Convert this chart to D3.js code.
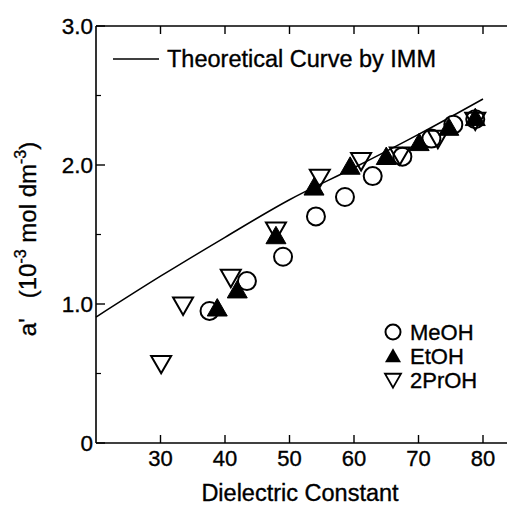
<!DOCTYPE html>
<html><head><meta charset="utf-8">
<script src="https://cdn.jsdelivr.net/npm/d3@7/dist/d3.min.js"></script>
<style>body{margin:0;background:#fff}svg{display:block}text{font-family:"Liberation Sans",Arial,sans-serif;fill:#000;stroke:#000;stroke-width:0.35px}</style>
</head><body><svg id="c" width="507" height="505"></svg>
<script>
// Data
const meohX = [37.6, 43.4, 49.0, 54.1, 58.6, 62.9, 67.5, 72.0, 75.4, 78.8];
const meohY = [0.95, 1.165, 1.34, 1.63, 1.77, 1.92, 2.06, 2.19, 2.29, 2.33];
const etohX = [38.8, 41.9, 47.9, 53.8, 59.4, 65.0, 70.1, 74.7, 78.8];
const etohY = [0.97, 1.10, 1.49, 1.84, 1.99, 2.06, 2.16, 2.27, 2.34];
const proX = [30.1, 33.5, 40.9, 47.9, 54.7, 61.1, 67.1, 73.0, 78.8];
const proY = [0.57, 0.99, 1.19, 1.53, 1.91, 2.03, 2.07, 2.19, 2.32];
const theoX = [20, 30, 40, 50, 60, 70, 80];
const theoY = [0.906, 1.20, 1.48, 1.75, 1.98, 2.22, 2.475];
const xTicks = [30, 40, 50, 60, 70, 80];
const yTicks = [0, 1, 2, 3];
const yTickLabels = ["0", "1.0", "2.0", "3.0"];
const yMinor = [0.5, 1.5, 2.5];
const legendNames = ["MeOH", "EtOH", "2PrOH"];

const svg = d3.select("#c");
const x = d3.scaleLinear().domain([20, 80]).range([96, 483]);
const y = d3.scaleLinear().domain([0, 3]).range([443, 26]);
const xEnd = 507;

// axes lines
svg.append("line").attr("x1", x(20)).attr("x2", xEnd).attr("y1", y(0)).attr("y2", y(0)).attr("stroke", "#000").attr("stroke-width", 1.6);
svg.append("line").attr("x1", x(20)).attr("x2", xEnd).attr("y1", y(3)).attr("y2", y(3)).attr("stroke", "#000").attr("stroke-width", 1.6);
svg.append("line").attr("x1", x(20)).attr("x2", x(20)).attr("y1", y(0)).attr("y2", y(3)).attr("stroke", "#000").attr("stroke-width", 1.6);

// x ticks (bottom + top, inward)
xTicks.forEach(t => {
  svg.append("line").attr("x1", x(t)).attr("x2", x(t)).attr("y1", y(0)).attr("y2", y(0) - 8).attr("stroke", "#000").attr("stroke-width", 1.4);
  svg.append("line").attr("x1", x(t)).attr("x2", x(t)).attr("y1", y(3)).attr("y2", y(3) + 8).attr("stroke", "#000").attr("stroke-width", 1.4);
  svg.append("text").attr("x", x(t)).attr("y", y(0) + 23).attr("text-anchor", "middle").attr("font-size", 22).text(t);
});
// y ticks
yTicks.forEach((t, i) => {
  svg.append("line").attr("x1", x(20)).attr("x2", x(20) + 9).attr("y1", y(t)).attr("y2", y(t)).attr("stroke", "#000").attr("stroke-width", 1.4);
  svg.append("text").attr("x", x(20) - 3).attr("y", y(t) + 8).attr("text-anchor", "end").attr("font-size", 22.5).text(yTickLabels[i]);
});
yMinor.forEach(t => {
  svg.append("line").attr("x1", x(20)).attr("x2", x(20) + 5).attr("y1", y(t)).attr("y2", y(t)).attr("stroke", "#000").attr("stroke-width", 1.2);
});

// axis titles
svg.append("text").attr("x", 300).attr("y", 501).attr("text-anchor", "middle").attr("font-size", 23.5).text("Dielectric Constant");
const yl = svg.append("text").attr("transform", "translate(36,239) rotate(-90)").attr("text-anchor", "middle").attr("font-size", 24);
yl.append("tspan").text("a'\u00a0\u00a0\u00a0(10");
yl.append("tspan").attr("dy", -10).attr("font-size", 16).text("-3");
yl.append("tspan").attr("dy", 10).text(" mol dm");
yl.append("tspan").attr("dy", -10).attr("font-size", 16).text("-3");
yl.append("tspan").attr("dy", 10).text(")");

// theoretical curve
const lineGen = d3.line().x(d => x(d[0])).y(d => y(d[1])).curve(d3.curveMonotoneX);
svg.append("path").datum(theoX.map((v, i) => [v, theoY[i]])).attr("d", lineGen).attr("fill", "none").attr("stroke", "#000").attr("stroke-width", 1.5);

// markers
function triUp(cx, cy, s) {
  const h = s * 0.87;
  return `M${cx},${cy - h * 0.55}L${cx + s / 2},${cy + h * 0.45}L${cx - s / 2},${cy + h * 0.45}Z`;
}
function triDown(cx, cy, s) {
  const h = s * 0.87;
  return `M${cx},${cy + h * 0.55}L${cx + s / 2},${cy - h * 0.45}L${cx - s / 2},${cy - h * 0.45}Z`;
}
const g = svg.append("g");
g.selectAll("circle.m").data(meohX.map((v, i) => [v, meohY[i]])).enter().append("circle")
  .attr("cx", d => x(d[0])).attr("cy", d => y(d[1])).attr("r", 9)
  .attr("fill", "#fff").attr("stroke", "#000").attr("stroke-width", 2);
g.selectAll("path.e").data(etohX.map((v, i) => [v, etohY[i]])).enter().append("path")
  .attr("d", d => triUp(x(d[0]), y(d[1]), 20)).attr("fill", "#000").attr("stroke", "#000").attr("stroke-width", 1);
g.selectAll("path.p").data(proX.map((v, i) => [v, proY[i]])).enter().append("path")
  .attr("d", d => triDown(x(d[0]), y(d[1]), 20)).attr("fill", "none").attr("stroke", "#000").attr("stroke-width", 2);

// legend
svg.append("line").attr("x1", 113).attr("x2", 159).attr("y1", 59).attr("y2", 59).attr("stroke", "#000").attr("stroke-width", 1.4);
svg.append("text").attr("x", 167).attr("y", 67).attr("font-size", 23.5).text("Theoretical Curve by IMM");

const lx = 393, ly = [332, 356, 380];
svg.append("circle").attr("cx", lx).attr("cy", ly[0]).attr("r", 7.5).attr("fill", "#fff").attr("stroke", "#000").attr("stroke-width", 2);
svg.append("path").attr("d", triUp(lx, ly[1], 16)).attr("fill", "#000");
svg.append("path").attr("d", triDown(lx, ly[2], 16)).attr("fill", "none").attr("stroke", "#000").attr("stroke-width", 1.8);
legendNames.forEach((n, i) => {
  svg.append("text").attr("x", 410).attr("y", ly[i] + 8).attr("font-size", 22).text(n);
});
</script></body></html>
